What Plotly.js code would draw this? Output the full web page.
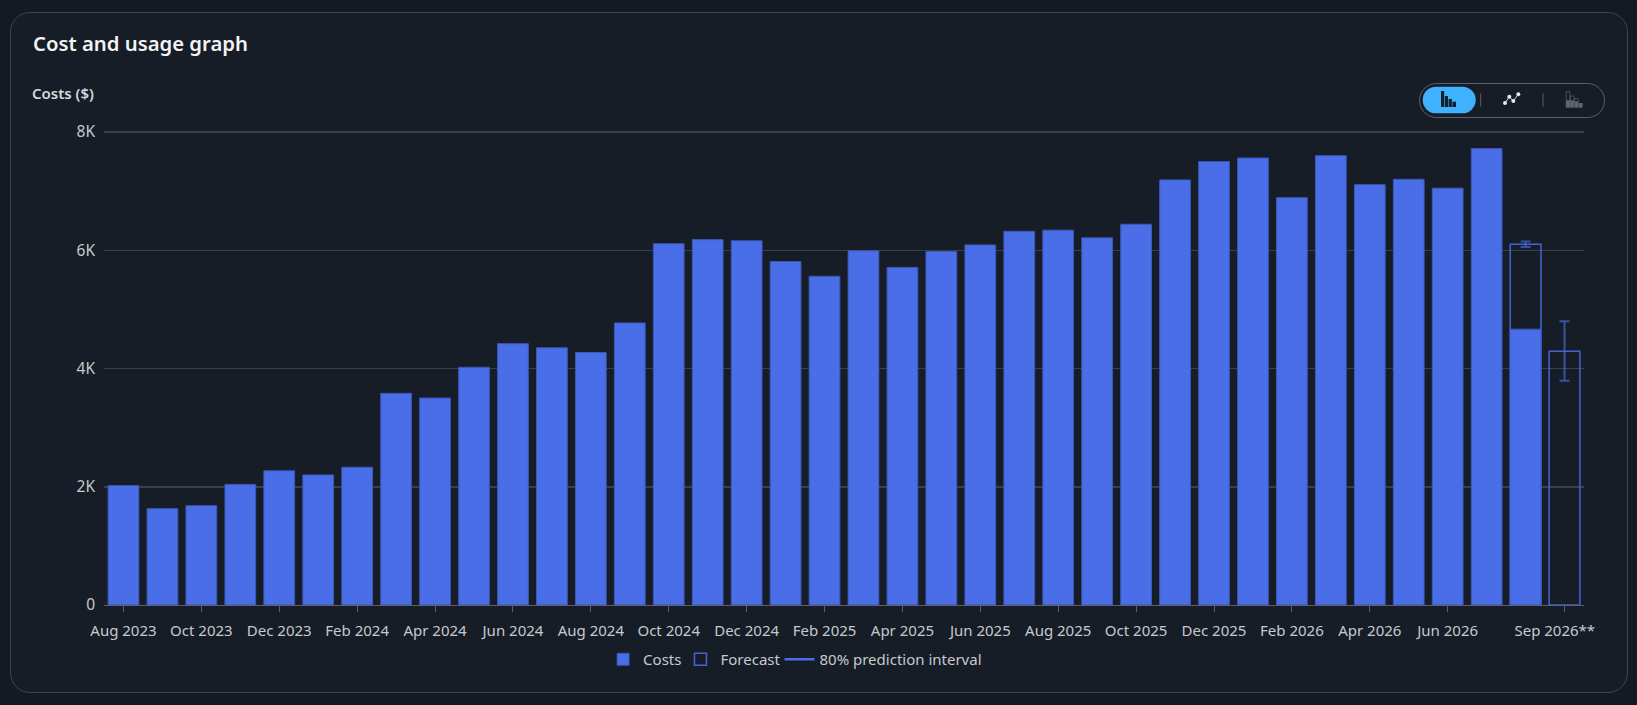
<!DOCTYPE html>
<html>
<head>
<meta charset="utf-8">
<script src="https://cdn.plot.ly/plotly-3.0.1.min.js"></script>
<style>
  html, body { margin: 0; padding: 0; background: #141a22; }
  body { width: 1637px; height: 705px; overflow: hidden; position: relative; font-family: "Noto Sans", sans-serif; }
  #panel { position: absolute; left: 10px; top: 12px; width: 1618px; height: 681px; box-sizing: border-box; border: 1.5px solid #3f4550; border-radius: 20px; background: #161d27; }
  #chart { position: absolute; left: 0; top: 0; width: 1637px; height: 705px; }
  #toggle { position: absolute; left: 1419px; top: 83px; width: 186px; height: 34.5px; box-sizing: border-box; border: 1.5px solid #5b606b; border-radius: 18px; }
  #toggle svg { position: absolute; left: -1.5px; top: -1.5px; }
</style>
</head>
<body>
<div id="panel"></div>
<div id="chart"></div>
<div id="toggle">
  <svg width="186" height="34" viewBox="0 0 186 34">
    <rect x="3.7" y="3.7" width="53" height="26.6" rx="13.3" fill="#3fb1ff"/>
    <rect x="22" y="8" width="3.2" height="16" fill="#10202e"/>
    <rect x="25.8" y="13" width="3.2" height="11" fill="#10202e"/>
    <rect x="29.6" y="16" width="3.2" height="8" fill="#10202e"/>
    <rect x="33.4" y="18.7" width="3.6" height="5.3" fill="#10202e"/>
    <line x1="61.7" y1="10.3" x2="61.7" y2="23.7" stroke="#5b606b"/>
    <polyline points="86,20 90.3,13.7 94.3,18 99.3,11.3" fill="none" stroke="#d5d8dc" stroke-width="1"/>
    <circle cx="86" cy="20" r="2" fill="#e6e8ea"/><circle cx="90.3" cy="13.7" r="2" fill="#e6e8ea"/>
    <circle cx="94.3" cy="18" r="2" fill="#e6e8ea"/><circle cx="99.3" cy="11.3" r="2" fill="#e6e8ea"/>
    <line x1="124" y1="10.3" x2="124" y2="23.7" stroke="#5b606b"/>
    <g fill="none" stroke="#4f545d" stroke-width="0.8">
      <rect x="147.2" y="8.7" width="3.6" height="9"/>
      <rect x="151.4" y="13" width="3.6" height="5"/>
      <rect x="155.6" y="15.5" width="3.6" height="3"/>
    </g>
    <rect x="146.8" y="17.5" width="4.2" height="7.2" fill="#5f646d"/>
    <rect x="151.2" y="17.5" width="4" height="7.2" fill="#5f646d"/>
    <rect x="155.4" y="18.5" width="4" height="6.2" fill="#5f646d"/>
    <rect x="159.6" y="20" width="4" height="4.7" fill="#5f646d"/>
  </svg>
</div>
<script>
'use strict';

const months = [
  'Aug 2023', 'Sep 2023', 'Oct 2023', 'Nov 2023', 'Dec 2023', 'Jan 2024', 'Feb 2024', 'Mar 2024',
  'Apr 2024', 'May 2024', 'Jun 2024', 'Jul 2024', 'Aug 2024', 'Sep 2024', 'Oct 2024', 'Nov 2024',
  'Dec 2024', 'Jan 2025', 'Feb 2025', 'Mar 2025', 'Apr 2025', 'May 2025', 'Jun 2025', 'Jul 2025',
  'Aug 2025', 'Sep 2025', 'Oct 2025', 'Nov 2025', 'Dec 2025', 'Jan 2026', 'Feb 2026', 'Mar 2026',
  'Apr 2026', 'May 2026', 'Jun 2026', 'Jul 2026', 'Aug 2026', 'Sep 2026**'
];
const costs = [
  2020, 1630, 1680, 2040, 2270, 2200, 2330, 3580,
  3500, 4020, 4420, 4350, 4270, 4770, 6110, 6180,
  6160, 5810, 5560, 5990, 5710, 5980, 6090, 6320,
  6340, 6210, 6440, 7190, 7500, 7560, 6890, 7600,
  7110, 7200, 7050, 7720, 4666, null
];
const forecastMonths = ['Aug 2026', 'Sep 2026**'];
const forecast = [6100, 4293];
const intervalUp = [47, 508];
const intervalDown = [47, 502];
const xTicks = [
  'Aug 2023', 'Oct 2023', 'Dec 2023', 'Feb 2024', 'Apr 2024', 'Jun 2024', 'Aug 2024', 'Oct 2024',
  'Dec 2024', 'Feb 2025', 'Apr 2025', 'Jun 2025', 'Aug 2025', 'Oct 2025', 'Dec 2025', 'Feb 2026',
  'Apr 2026', 'Jun 2026', 'Sep 2026**'
];
const yTicks = [0, 2000, 4000, 6000, 8000];
const yLabels = ['0', '2K', '4K', '6K', '8K'];

const BLUE = '#4a6ee8';
const TEXT = '#c6c9ce';

// the last label sits left of its tick in the original, trailing nbsp pushes it over
const xLabels = xTicks.map(t => t.endsWith('**') ? t + '\u00a0'.repeat(5) : t);

const traces = [
  {
    type: 'bar', name: 'Costs', x: months, y: costs,
    marker: { color: BLUE, line: { color: '#3c57b5', width: 1 } }
  },
  {
    type: 'bar', name: 'Forecast', x: forecastMonths, y: forecast,
    marker: { color: 'rgba(0,0,0,0)', line: { color: '#4264d6', width: 1.5 } },
    error_y: { type: 'data', symmetric: false, array: intervalUp, arrayminus: intervalDown, color: 'rgba(74,110,232,0.65)', thickness: 2, width: 5 }
  },
  {
    // legend entry only, the whiskers hang off the forecast bars
    type: 'scatter', mode: 'lines', name: '80% prediction interval',
    x: forecastMonths, y: [null, null], line: { color: BLUE, width: 2.5 }
  }
];

const layout = {
  width: 1637, height: 705,
  paper_bgcolor: 'rgba(0,0,0,0)', plot_bgcolor: 'rgba(0,0,0,0)',
  font: { family: '"Noto Sans", sans-serif', size: 15, color: TEXT },
  margin: { l: 104, r: 53, t: 131, b: 100 },
  barmode: 'overlay', bargap: 0.21, showlegend: true,
  legend: {
    orientation: 'h', x: 0.469, xanchor: 'center', y: -0.115, yanchor: 'middle',
    indentation: -6,
    font: { size: 15, color: TEXT }, bgcolor: 'rgba(0,0,0,0)'
  },
  xaxis: {
    type: 'category', categoryorder: 'array', categoryarray: months,
    tickmode: 'array', tickvals: xTicks, ticktext: xLabels, tickangle: 0,
    ticks: 'outside', ticklen: 6, tickcolor: '#5b606b', tickwidth: 1, ticklabelstandoff: 6,
    showline: true, linecolor: '#5b606b', linewidth: 1, showgrid: false, zeroline: false,
    range: [-0.5, 37.5], fixedrange: true
  },
  yaxis: {
    // a hair over 8K so plotly keeps the top gridline
    range: [0, 8017], tickmode: 'array', tickvals: yTicks, ticktext: yLabels,
    tickfont: { size: 15.5 },
    gridcolor: '#3a404a', gridwidth: 1.5, zeroline: false, showline: false, ticks: '', ticklabelstandoff: 8, fixedrange: true
  },
  annotations: [
    { xref: 'paper', yref: 'paper', x: -0.0493, xanchor: 'left', y: 1.186, yanchor: 'middle', showarrow: false, text: 'Cost and usage graph', font: { size: 20.3, color: '#f2f3f4', weight: 600 } },
    { xref: 'paper', yref: 'paper', x: -0.05, xanchor: 'left', y: 1.08, yanchor: 'middle', showarrow: false, text: 'Costs ($)', font: { size: 15, color: '#d5d7da', weight: 600 } }
  ]
};

Plotly.newPlot('chart', traces, layout, { displayModeBar: false, staticPlot: true });
</script>
</body>
</html>
